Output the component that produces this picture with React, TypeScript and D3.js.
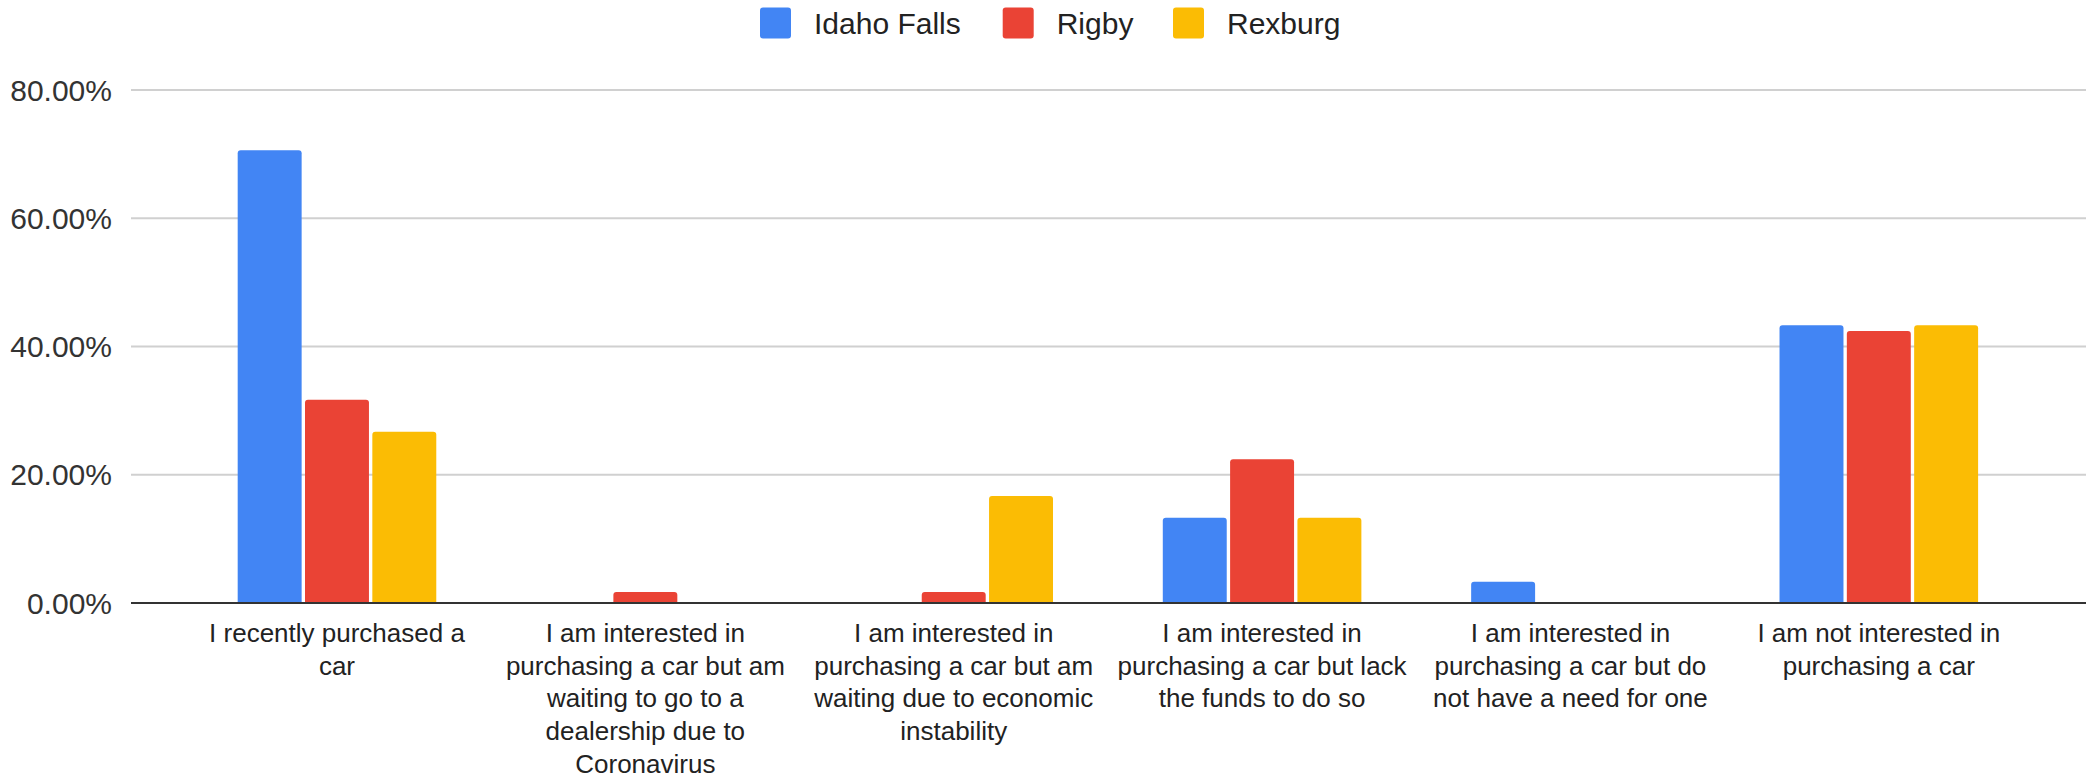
import React from 'react';
import * as d3 from 'd3';

// Datos del gráfico
const categories = [
  ['I recently purchased a', 'car'],
  ['I am interested in', 'purchasing a car but am', 'waiting to go to a', 'dealership due to', 'Coronavirus'],
  ['I am interested in', 'purchasing a car but am', 'waiting due to economic', 'instability'],
  ['I am interested in', 'purchasing a car but lack', 'the funds to do so'],
  ['I am interested in', 'purchasing a car but do', 'not have a need for one'],
  ['I am not interested in', 'purchasing a car'],
];
const seriesNames = ['Idaho Falls', 'Rigby', 'Rexburg'];
const seriesColors = ['#4285f4', '#ea4335', '#fbbc04'];
const idahoFalls = [70.6, 0, 0, 13.3, 3.3, 43.3];
const rigby = [31.7, 1.7, 1.7, 22.4, 0, 42.4];
const rexburg = [26.7, 0, 16.7, 13.3, 0, 43.3];
const yTicks = [0, 20, 40, 60, 80];

const W = 2086;
const H = 779;
const FONT = '"Liberation Sans", Arial, sans-serif';

const App = () => {
  const values = [idahoFalls, rigby, rexburg];
  const ids = categories.map((_, i) => String(i));

  const x = d3.scaleBand<string>().domain(ids).range([182.8, 2033]).paddingInner(0.356).paddingOuter(0.178);
  const x1 = d3.scaleBand<string>().domain(seriesNames).range([0, x.bandwidth()]).paddingInner(0.05);
  const y = d3.scaleLinear().domain([0, 80]).range([603, 90]);

  const fmt = d3.format('.2f');

  // barra con esquinas superiores redondeadas
  const barPath = (bx: number, by: number, bw: number, bh: number) => {
    const r = Math.min(3, bh, bw / 2);
    const p = d3.path();
    p.moveTo(bx, by + bh);
    p.lineTo(bx, by + r);
    p.quadraticCurveTo(bx, by, bx + r, by);
    p.lineTo(bx + bw - r, by);
    p.quadraticCurveTo(bx + bw, by, bx + bw, by + r);
    p.lineTo(bx + bw, by + bh);
    p.closePath();
    return p.toString();
  };

  // leyenda
  const legendX = [760, 1002.7, 1173];

  return (
    <svg width={W} height={H} style={{ position: 'absolute', left: 0, top: 0, background: '#fff' }} fontFamily={FONT}>
      <rect width={W} height={H} fill="#fff" />
      {seriesNames.map((s, i) => (
        <g key={s}>
          <rect x={legendX[i]} y={7.5} width={31} height={31} rx={3} fill={seriesColors[i]} />
          <text x={legendX[i] + 54} y={33.5} fontSize={30} fill="#222">{s}</text>
        </g>
      ))}

      {yTicks.map(t => (
        <g key={t}>
          {t > 0 && <line x1={131} x2={W} y1={y(t)} y2={y(t)} stroke="#d0d0d0" strokeWidth={2} />}
          <text x={112} y={y(t) + 10.5} fontSize={30} textAnchor="end" fill="#333">{fmt(t)}%</text>
        </g>
      ))}

      {values.map((vals, si) =>
        vals.map((v, ci) => {
          if (v <= 0) return null;
          const bx = (x(String(ci)) as number) + (x1(seriesNames[si]) as number);
          const by = y(v);
          return (
            <path key={`${si}-${ci}`} d={barPath(bx, by, x1.bandwidth(), y(0) - by)} fill={seriesColors[si]} />
          );
        })
      )}

      <line x1={131} x2={W} y1={y(0)} y2={y(0)} stroke="#333" strokeWidth={2} />

      {categories.map((lines, ci) => (
        <text key={ci} x={(x(String(ci)) as number) + x.bandwidth() / 2} y={642} fontSize={26} textAnchor="middle" fill="#222">
          {lines.map((l, li) => (
            <tspan key={li} x={(x(String(ci)) as number) + x.bandwidth() / 2} dy={li === 0 ? 0 : 32.7}>{l}</tspan>
          ))}
        </text>
      ))}
    </svg>
  );
};

export default App;
